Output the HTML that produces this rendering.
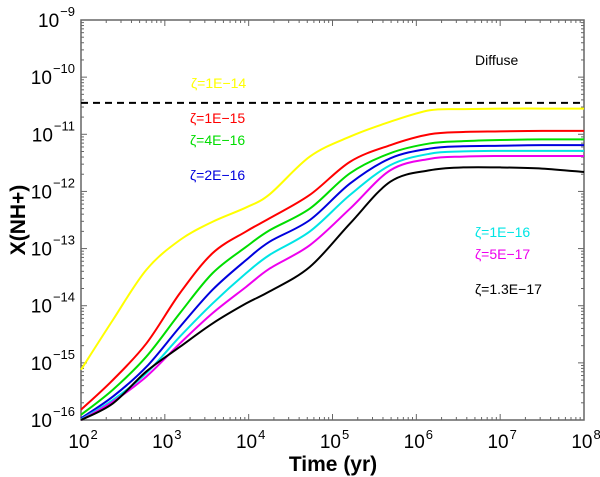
<!DOCTYPE html>
<html><head><meta charset="utf-8"><style>
body{margin:0;background:#fff}
svg{display:block;font-family:"Liberation Sans",Arial,sans-serif}
</style></head><body>
<svg id="chart" width="600" height="477" viewBox="0 0 600 477" xmlns="http://www.w3.org/2000/svg">
<g id="axes"></g>
<g id="series"></g>
<line id="diffuse-line" stroke="#000" stroke-width="2" stroke-dasharray="7,5"/>
<text x="475" y="65" font-size="14">Diffuse</text>
<text x="191" y="88" font-size="14" fill="#ffff00">ζ=1E−14</text>
<text x="190" y="123" font-size="14" fill="#ff0000">ζ=1E−15</text>
<text x="190" y="145" font-size="14" fill="#00dd00">ζ=4E−16</text>
<text x="190" y="180" font-size="14" fill="#0000dd">ζ=2E−16</text>
<text x="475" y="237" font-size="14" fill="#00e5e5">ζ=1E−16</text>
<text x="475" y="259" font-size="14" fill="#ee00ee">ζ=5E−17</text>
<text x="475" y="294" font-size="14" fill="#000">ζ=1.3E−17</text>
<text x="333" y="471" font-size="21" font-weight="bold" text-anchor="middle">Time (yr)</text>
<text transform="translate(25,220) rotate(-90)" font-size="21" font-weight="bold" text-anchor="middle">X(NH+)</text>
</svg>
<script>
const xTickExps=[2,3,4,5,6,7,8];
const yTickExps=[-16,-15,-14,-13,-12,-11,-10,-9];
const diffuseLogX=-10.45;
const colors=["#ffff00","#ff0000","#00dd00","#0000dd","#00e5e5","#ee00ee","#000000"];
const seriesNames=["zeta-1e-14","zeta-1e-15","zeta-4e-16","zeta-2e-16","zeta-1e-16","zeta-5e-17","zeta-1.3e-17"];
const logT=[2,2.38,2.78,3.18,3.57,3.97,4.25,4.73,5.21,5.69,6.16,6.56,7,7.5,8];
const yYellow=[-15.12,-14.25,-13.37,-12.85,-12.53,-12.28,-12.05,-11.39,-11.04,-10.78,-10.58,-10.56,-10.55,-10.55,-10.55];
const yRed=[-15.82,-15.30,-14.66,-13.78,-13.08,-12.70,-12.47,-12.06,-11.48,-11.19,-11.0,-10.96,-10.95,-10.94,-10.94];
const yGreen=[-15.91,-15.47,-14.89,-14.13,-13.43,-12.97,-12.68,-12.30,-11.68,-11.33,-11.16,-11.12,-11.10,-11.09,-11.09];
const yBlue=[-15.97,-15.59,-15.07,-14.37,-13.72,-13.2,-12.88,-12.5,-11.86,-11.42,-11.25,-11.21,-11.20,-11.19,-11.19];
const yCyan=[-15.99,-15.65,-15.18,-14.54,-13.96,-13.43,-13.11,-12.70,-12.06,-11.54,-11.34,-11.30,-11.29,-11.29,-11.29];
const yMagenta=[-16.0,-15.68,-15.24,-14.66,-14.13,-13.67,-13.35,-12.94,-12.30,-11.63,-11.43,-11.39,-11.38,-11.38,-11.38];
const yBlack=[-16.0,-15.71,-15.15,-14.72,-14.31,-13.96,-13.75,-13.32,-12.56,-11.83,-11.63,-11.58,-11.58,-11.60,-11.66];
const allSeries=[yYellow,yRed,yGreen,yBlue,yCyan,yMagenta,yBlack];

const L=81,R=584,T=20,B=420;
const NS="http://www.w3.org/2000/svg";
function sx(lt){return L+(lt-2)/6*(R-L);}
function sy(lx){return T+(-9-lx)/7*(B-T);}
function mk(tag,attrs,parent){const e=document.createElementNS(NS,tag);for(const k in attrs)e.setAttribute(k,attrs[k]);parent.appendChild(e);return e;}
const axes=document.getElementById('axes');
const frame=mk('rect',{x:L,y:T,width:R-L,height:B-T,fill:'none',stroke:'#666','stroke-width':1.5},axes);


for(let d=2;d<8;d++){for(let m=1;m<10;m++){const lt=d+Math.log10(m);const x=sx(lt);const len=m===1?6:3;
mk('line',{x1:x,y1:B,x2:x,y2:B-len,stroke:'#666'},axes);mk('line',{x1:x,y1:T,x2:x,y2:T+len,stroke:'#666'},axes);}}
for(let d=-16;d<-9;d++){for(let m=1;m<10;m++){const lx=d+Math.log10(m);const y=sy(lx);const len=m===1?6:3;
mk('line',{x1:L,y1:y,x2:L+len,y2:y,stroke:'#666'},axes);mk('line',{x1:R,y1:y,x2:R-len,y2:y,stroke:'#666'},axes);}}
xTickExps.forEach(e=>{const x=sx(e);
const t=mk('text',{x:x+2,y:448,'font-size':19,'text-anchor':'middle'},axes);


t.appendChild(document.createTextNode('10'));
const s=mk('tspan',{dx:1,dy:-9,'font-size':13},t);s.textContent=String(e);});
yTickExps.forEach(e=>{const y=sy(e);
const t=mk('text',{x:75,y:y+7,'font-size':19,'text-anchor':'end'},axes);


t.appendChild(document.createTextNode('10'));
const s=mk('tspan',{dx:1,dy:-11,'font-size':13},t);s.textContent='\u2212'+String(-e);});
const sg=document.getElementById('series');
allSeries.forEach((vals,i)=>{
const pts=logT.map((lt,j)=>[sx(lt),sy(vals[j])]);
let d='M'+pts[0][0]+','+pts[0][1];
for(let j=0;j<pts.length-1;j++){const p0=pts[j-1]||pts[j],p1=pts[j],p2=pts[j+1],p3=pts[j+2]||p2;
const c1=[p1[0]+(p2[0]-p0[0])/6,p1[1]+(p2[1]-p0[1])/6],c2=[p2[0]-(p3[0]-p1[0])/6,p2[1]-(p3[1]-p1[1])/6];
d+=' C'+c1+' '+c2+' '+p2;}
const p=mk('path',{d:d,fill:'none',stroke:colors[i],'stroke-width':2},sg);


});
const dl=document.getElementById('diffuse-line');
dl.setAttribute('x1',L);dl.setAttribute('x2',R);dl.setAttribute('y1',sy(diffuseLogX));dl.setAttribute('y2',sy(diffuseLogX));
</script>
</body></html>
